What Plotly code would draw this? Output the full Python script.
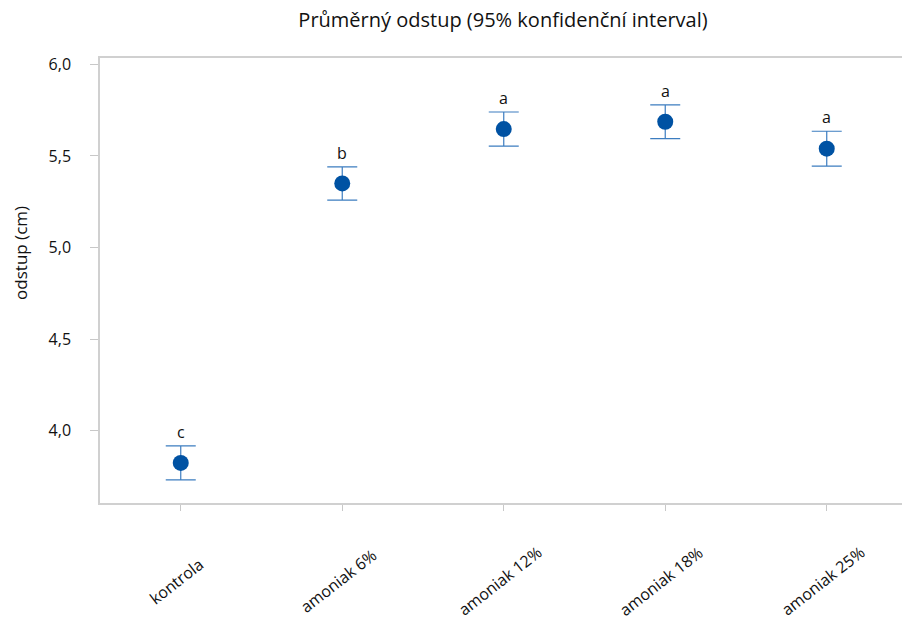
import plotly.graph_objects as go

# Group means of the gap (cm) with 95% confidence half-widths
categories = ["kontrola", "amoniak 6%", "amoniak 12%", "amoniak 18%", "amoniak 25%"]
means = [3.824, 5.350, 5.647, 5.687, 5.540]
ci_half = [0.093, 0.091, 0.093, 0.092, 0.095]
groups = ["c", "b", "a", "a", "a"]
y_ticks = [4.0, 4.5, 5.0, 5.5, 6.0]

FONT = "Open Sans"
x_pos = list(range(len(categories)))

fig = go.Figure()
fig.add_trace(go.Scatter(
    x=x_pos,
    y=means,
    mode="markers",
    marker=dict(size=16, color="#0052A3"),
    error_y=dict(type="data", array=ci_half, visible=True,
                 color="#3C7DC0", thickness=1.2, width=15),
    showlegend=False,
))

annotations = []
# significance letters above the upper CI limit
for xi, m, h, g in zip(x_pos, means, ci_half, groups):
    annotations.append(dict(
        x=xi, y=m + h, xref="x", yref="y", text=g, showarrow=False,
        yanchor="middle", yshift=14,
        font=dict(family=FONT, size=16, color="#111111"),
    ))
# rotated category labels centred under each tick
for xi, c in zip(x_pos, categories):
    annotations.append(dict(
        x=xi, y=0, xref="x", yref="paper", text=c, showarrow=False,
        textangle=-38, xanchor="center", yanchor="middle",
        yshift=-78, xshift=-4,
        font=dict(family=FONT, size=16, color="#111111"),
    ))
# y-axis title
annotations.append(dict(
    x=0, y=0.562, xref="paper", yref="paper", text="odstup (cm)",
    showarrow=False, textangle=-90, xanchor="center", yanchor="middle",
    xshift=-79, font=dict(family=FONT, size=17, color="#111111"),
))

fig.update_layout(
    width=902,
    height=623,
    margin=dict(l=100, r=0, t=58, b=120),
    paper_bgcolor="white",
    plot_bgcolor="white",
    separators=", ",
    title=dict(
        text="Průměrný odstup (95% konfidenční interval)",
        x=503 / 902, xref="container", xanchor="center",
        y=1 - 20 / 623, yref="container", yanchor="middle",
        font=dict(family=FONT, size=20, color="#111111"),
    ),
    annotations=annotations,
    xaxis=dict(
        range=[-0.5, 4.466],
        tickvals=x_pos,
        showticklabels=False,
        showgrid=False,
        zeroline=False,
        showline=True,
        linecolor="#D0D0D0",
        linewidth=1.5,
        mirror=True,
        ticks="outside",
        ticklen=6,
        tickcolor="#C8C8C8",
        tickwidth=1,
    ),
    yaxis=dict(
        range=[3.605, 6.035],
        tickvals=y_ticks,
        tickformat=".1f",
        showgrid=False,
        zeroline=False,
        showline=True,
        linecolor="#D0D0D0",
        linewidth=1.5,
        ticks="outside",
        ticklen=8,
        tickcolor="#C8C8C8",
        tickwidth=1,
        ticklabelstandoff=16,
        tickfont=dict(family=FONT, size=16, color="#111111"),
    ),
)

fig.write_html("out.html")
